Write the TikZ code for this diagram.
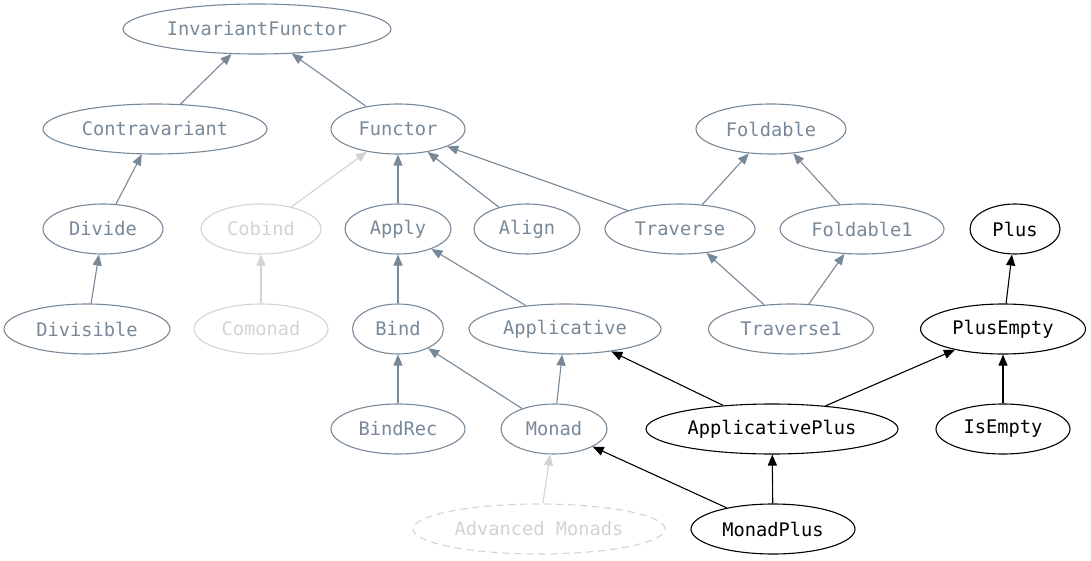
\documentclass[tikz,border=0pt]{standalone}
\usepackage{fontspec}
\setmonofont{DejaVu Sans Mono}
\usetikzlibrary{arrows.meta,shapes.geometric}
\definecolor{slate}{RGB}{119,136,153}
\definecolor{faint}{RGB}{211,211,211}

\begin{document}
\begin{tikzpicture}[x=1pt, y=-1pt,
  cls/.style={ellipse, draw=slate, text=slate, line width=1.1pt, minimum height=50pt,
              inner sep=0, font=\ttfamily\fontsize{18.7}{22}\selectfont},
  dim/.style={cls, draw=faint, text=faint},
  own/.style={cls, draw=black, text=black},
  isa/.style={draw=slate, line width=1.1pt, -{Triangle[length=11pt,width=9pt]}},
  isadim/.style={isa, draw=faint},
  isaown/.style={isa, draw=black},
]
\useasboundingbox (0,0) rectangle (1091,561);
% ---- row 1
\node[cls, minimum width=268pt] (inv) at (257,29) {InvariantFunctor};
% ---- row 2
\node[cls, minimum width=224pt] (contra) at (155,129) {Contravariant};
\node[cls, minimum width=134pt] (functor) at (398,129) {Functor};
\node[cls, minimum width=150pt] (foldable) at (771,129) {Foldable};
% ---- row 3
\node[cls, minimum width=120pt] (divide) at (103,229) {Divide};
\node[dim, minimum width=120pt] (cobind) at (261,229) {Cobind};
\node[cls, minimum width=106pt] (apply) at (398,229) {Apply};
\node[cls, minimum width=106pt] (align) at (527,229) {Align};
\node[cls, minimum width=150pt] (traverse) at (680,229) {Traverse};
\node[cls, minimum width=164pt] (foldone) at (862,229) {Foldable1};
\node[own, minimum width=90pt] (plus) at (1015,229) {Plus};
% ---- row 4
\node[cls, minimum width=166pt] (divisible) at (87,329) {Divisible};
\node[dim, minimum width=134pt] (comonad) at (261,329) {Comonad};
\node[cls, minimum width=91pt] (bind) at (398,329) {Bind};
\node[cls, minimum width=192pt] (applicative) at (565,329) {Applicative};
\node[cls, minimum width=165pt] (travone) at (791,329) {Traverse1};
\node[own, minimum width=165pt] (plusempty) at (1003,329) {PlusEmpty};
% ---- row 5
\node[cls, minimum width=134pt] (bindrec) at (398,429) {BindRec};
\node[cls, minimum width=106pt] (monad) at (554,429) {Monad};
\node[own, minimum width=252pt] (applplus) at (772,429) {ApplicativePlus};
\node[own, minimum width=134pt] (isempty) at (1003,429) {IsEmpty};
% ---- row 6
\node[dim, dash pattern=on 7pt off 5pt, minimum width=252pt] (advanced) at (539,529) {Advanced Monads};
\node[own, minimum width=164pt] (monadplus) at (773,529) {MonadPlus};
% superclass arrows
\foreach \a/\b in {contra/inv, functor/inv, divide/contra, divisible/divide,
                   apply/functor, align/functor, traverse/functor, traverse/foldable,
                   foldone/foldable, bind/apply, applicative/apply, travone/traverse,
                   travone/foldone, bindrec/bind, monad/bind, monad/applicative}
  \draw[isa] (\a) -- (\b);
\foreach \a/\b in {cobind/functor, comonad/cobind, advanced/monad}
  \draw[isadim] (\a) -- (\b);
\foreach \a/\b in {applplus/applicative, applplus/plusempty, plusempty/plus,
                   isempty/plusempty, monadplus/monad, monadplus/applplus}
  \draw[isaown] (\a) -- (\b);
\end{tikzpicture}
\end{document}
